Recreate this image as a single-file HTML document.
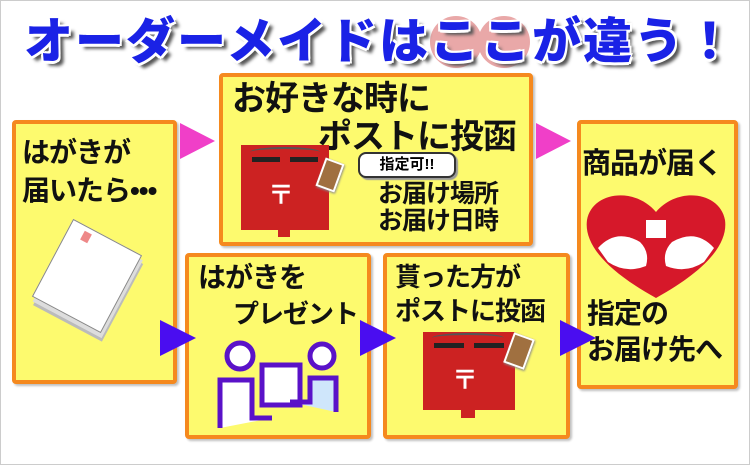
<!DOCTYPE html>
<html><head><meta charset="utf-8"><style>
*{margin:0;padding:0;box-sizing:border-box}
html,body{width:750px;height:465px;overflow:hidden}
body{background:#fff;position:relative;font-family:"Liberation Sans","Noto Sans CJK JP",sans-serif;}
.frame{position:absolute;left:0;top:0;width:750px;height:465px;border:1px solid #ccc}
.box{position:absolute;background:#fdfa6e;border:4px solid #f5891e;border-radius:4px;box-shadow:2px 2px 2px rgba(0,0,0,.25)}
.t{position:absolute;font-weight:bold;color:#111;white-space:nowrap;letter-spacing:-1px}
.title{position:absolute;left:24px;top:12px;font-size:49px;line-height:60px;font-weight:900;color:#1a22e6;white-space:nowrap;letter-spacing:2px;
text-shadow:-2px -2px 0 #fff,2px -2px 0 #fff,-2px 2px 0 #fff,2px 2px 0 #fff,0 3px 0 #fff,5px 5px 3px #555}
.circ{position:absolute;width:52px;height:52px;border-radius:50%;background:#e9a8a8}
.tri{position:absolute;width:0;height:0;border-top:18px solid transparent;border-bottom:18px solid transparent}
.pk{border-left:35px solid #f03fc8}
.bl{border-left:36px solid #4a0df0}
</style></head><body>
<div class="frame"></div>
<div class="circ" style="left:430px;top:16px"></div>
<div class="circ" style="left:478px;top:16px"></div>
<div class="title">オーダーメイドはここが違う！</div>

<div class="box" style="left:12px;top:120px;width:165px;height:264px"></div>
<div class="box" style="left:219px;top:73px;width:314px;height:173px"></div>
<div class="box" style="left:577px;top:120px;width:161px;height:269px"></div>
<div class="box" style="left:185px;top:253px;width:186px;height:186px"></div>
<div class="box" style="left:383px;top:253px;width:187px;height:186px"></div>

<div class="tri pk" style="left:180px;top:123px"></div>
<div class="tri pk" style="left:536px;top:123px"></div>
<div class="tri bl" style="left:160px;top:320px"></div>
<div class="tri bl" style="left:360px;top:320px"></div>
<div class="tri bl" style="left:560px;top:320px"></div>

<div class="t" style="left:22px;top:134px;font-size:28px;line-height:38px">はがきが<br>届いたら•••</div>
<div class="t" style="left:232px;top:78px;font-size:34px;line-height:42px">お好きな時に</div>
<div class="t" style="left:318px;top:116px;font-size:34px;line-height:42px">ポストに投函</div>
<div class="t" style="left:378px;top:181px;font-size:25px;line-height:27px">お届け場所<br>お届け日時</div>
<div style="position:absolute;left:358px;top:152px;width:98px;height:26px;border:2px solid #333;border-radius:8px;background:#fff;font-size:15px;font-weight:bold;text-align:center;line-height:22px;box-shadow:2px 2px 1px #999">指定可!!</div>
<div class="t" style="left:582px;top:144px;font-size:29px;line-height:40px">商品が届く</div>
<div class="t" style="left:587px;top:296px;font-size:28px;line-height:36px">指定の<br>お届け先へ</div>
<div class="t" style="left:198px;top:260px;font-size:28px;line-height:36px">はがきを</div>
<div class="t" style="left:233px;top:297px;font-size:26px;line-height:34px">プレゼント</div>
<div class="t" style="left:395px;top:260px;font-size:26px;line-height:34px">貰った方が<br>ポストに投函</div>

<!-- postbox top -->
<div style="position:absolute;left:241px;top:145px;width:88px;height:85px;background:#cc2222"></div>
<div style="position:absolute;left:250px;top:147px;width:70px;height:10px;border-top:2px solid #555;border-radius:50% 50% 0 0"></div>
<div style="position:absolute;left:252px;top:157px;width:28px;height:5px;background:#222"></div>
<div style="position:absolute;left:290px;top:157px;width:28px;height:5px;background:#222"></div>
<div style="position:absolute;left:268px;top:180px;font-size:26px;line-height:30px;color:#fff;font-weight:bold">〒</div>
<div style="position:absolute;left:278px;top:228px;width:12px;height:9px;background:#cc2222"></div>
<div style="position:absolute;left:320px;top:160px;width:20px;height:30px;background:#a07040;border:2px solid #fff;transform:rotate(20deg);box-shadow:1px 1px 2px #888"></div>
<!-- postbox bottom -->
<div style="position:absolute;left:423px;top:332px;width:92px;height:78px;background:#cc2222"></div>
<div style="position:absolute;left:432px;top:333px;width:72px;height:10px;border-top:2px solid #555;border-radius:50% 50% 0 0"></div>
<div style="position:absolute;left:434px;top:343px;width:30px;height:5px;background:#222"></div>
<div style="position:absolute;left:474px;top:343px;width:30px;height:5px;background:#222"></div>
<div style="position:absolute;left:452px;top:365px;font-size:26px;line-height:30px;color:#fff;font-weight:bold">〒</div>
<div style="position:absolute;left:461px;top:408px;width:14px;height:10px;background:#cc2222"></div>
<div style="position:absolute;left:508px;top:335px;width:22px;height:32px;background:#a07040;border:2px solid #fff;transform:rotate(20deg);box-shadow:1px 1px 2px #888"></div>
<!-- postcards -->
<div style="position:absolute;left:48px;top:232px;width:78px;height:88px;background:#fff;border:1px solid #888;transform:rotate(28deg);box-shadow:3px 4px 0 #ddd,5px 7px 0 #bbb"></div>
<div style="position:absolute;left:82px;top:232px;width:8px;height:10px;background:#e88;transform:rotate(28deg)"></div>
<!-- heart -->
<svg style="position:absolute;left:584px;top:190px" width="144" height="110" viewBox="0 0 144 110">
<path d="M72 108 C18 78 0 52 3 30 C8 2 50 -4 72 22 C94 -4 136 2 141 30 C144 52 126 78 72 108Z" fill="#d6182a"/>
<path d="M14 58 Q32 38 56 52 Q66 62 62 76 Q42 84 24 72Z" fill="#fff"/>
<path d="M130 58 Q112 38 88 52 Q78 62 82 76 Q102 84 120 72Z" fill="#fff"/>
<rect x="62" y="30" width="20" height="18" fill="#fff"/>
</svg>
<!-- people -->
<svg style="position:absolute;left:212px;top:340px" width="132" height="90" viewBox="0 0 132 90">
<g stroke="#5a12c8" stroke-width="5">
<circle cx="28" cy="16" r="13" fill="#fff"/><circle cx="110" cy="16" r="12" fill="#fff"/>
<path d="M8 88 V40 H40 V78 H60" fill="#fff"/>
<rect x="50" y="25" width="38" height="40" fill="#fff"/>
<path d="M124 72 V38 H98 V62 H78" fill="#cfe6fb"/>
</g></svg>
</body></html>
